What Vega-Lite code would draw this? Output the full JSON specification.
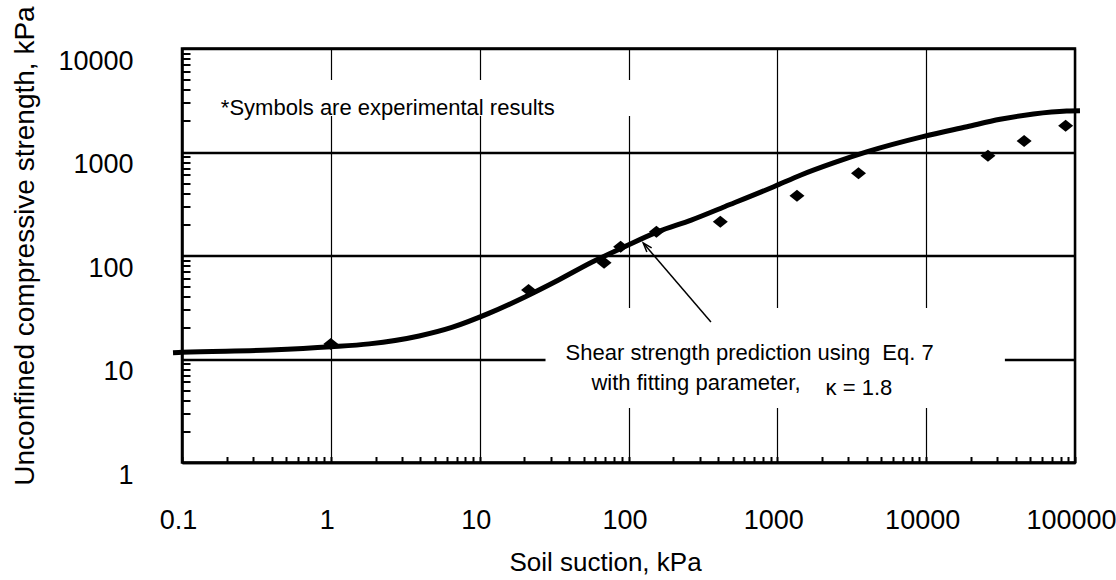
{
  "$schema": "https://vega.github.io/schema/vega-lite/v6.json",
  "width": 893,
  "height": 414,
  "autosize": {"type": "none"},
  "padding": {"left": 182, "top": 48.5, "right": 41, "bottom": 117.5},
  "background": "white",
  "config": {
    "view": {"stroke": "black", "strokeWidth": 2.5},
    "font": "Liberation Sans"
  },
  "datasets": {
    "curve": [
      {"x": 0.087, "y": 11.5}, {"x": 0.1, "y": 11.6}, {"x": 0.39, "y": 12.2}, {"x": 1, "y": 13.1},
      {"x": 1.81, "y": 14.0}, {"x": 3.92, "y": 16.7}, {"x": 6.5, "y": 20.2}, {"x": 11.5, "y": 27.6},
      {"x": 20.3, "y": 40}, {"x": 33.9, "y": 58}, {"x": 56.6, "y": 86}, {"x": 94.6, "y": 122},
      {"x": 158, "y": 170}, {"x": 264, "y": 220}, {"x": 442, "y": 296}, {"x": 946, "y": 462},
      {"x": 1442, "y": 600}, {"x": 2410, "y": 789}, {"x": 4030, "y": 1007}, {"x": 9500, "y": 1406},
      {"x": 18800, "y": 1755}, {"x": 31400, "y": 2070}, {"x": 52600, "y": 2330}, {"x": 87900, "y": 2490},
      {"x": 108000, "y": 2505}
    ],
    "points": [
      {"x": 1, "y": 14}, {"x": 21.3, "y": 46.4}, {"x": 68.5, "y": 85.2}, {"x": 88.5, "y": 121.7},
      {"x": 154, "y": 170}, {"x": 414, "y": 212}, {"x": 1355, "y": 378}, {"x": 3510, "y": 623},
      {"x": 26000, "y": 921}, {"x": 45500, "y": 1277}, {"x": 86500, "y": 1795}
    ],
    "boxes": [
      {"x": 0.13, "x2": 293, "y": 2230, "y2": 4960},
      {"x": 27.7, "x2": 33800, "y": 3.36, "y2": 31.1}
    ],
    "arrow": [
      {"x": 358, "y": 22.8, "x2": 125.6, "y2": 132}
    ],
    "arrowhead": [
      {"x": 125.6, "y": 132}
    ],
    "labels": [
      {"x": 0.1824, "y": 2662, "text": "*Symbols are experimental results"},
      {"x": 37.8, "y": 11.43, "text": "Shear strength prediction using\u00a0 Eq. 7"},
      {"x": 56.4, "y": 5.86, "text": "with fitting parameter,"},
      {"x": 2110, "y": 5.25, "text": "κ = 1.8"}
    ]
  },
  "encoding": {
    "x": {
      "field": "x",
      "type": "quantitative",
      "scale": {"type": "log", "domain": [0.1, 100000], "nice": false},
      "axis": {
        "title": "Soil suction, kPa",
        "values": [0.1, 0.2, 0.3, 0.4, 0.5, 0.6, 0.7, 0.8, 0.9, 1, 2, 3, 4, 5, 6, 7, 8, 9, 10, 20, 30, 40, 50, 60, 70, 80, 90, 100, 200, 300, 400, 500, 600, 700, 800, 900, 1000, 2000, 3000, 4000, 5000, 6000, 7000, 8000, 9000, 10000, 20000, 30000, 40000, 50000, 60000, 70000, 80000, 90000, 100000],
        "format": "~g",
        "labelExpr": "abs(log(datum.value)/LN10 - round(log(datum.value)/LN10)) < 0.001 ? datum.label : ''",
        "grid": true,
        "gridColor": "black",
        "gridWidth": 1.2,
        "gridOpacity": {"condition": {"test": "abs(log(datum.value)/LN10 - round(log(datum.value)/LN10)) < 0.001", "value": 1}, "value": 0},
        "domainColor": "black",
        "domainWidth": 2.5,
        "tickColor": "black",
        "tickWidth": 2,
        "tickSize": -6,
        "labelFont": "Liberation Sans",
        "labelFontSize": 27,
        "labelColor": "black",
        "labelPadding": 51,
        "labelFlush": false,
        "labelOverlap": false,
        "labelOffset": -4,
        "titleFont": "Liberation Sans",
        "titleFontSize": 26,
        "titleFontWeight": "normal",
        "titleColor": "black",
        "titleX": 423,
        "titleY": 108,
        "titleAlign": "center",
        "titleBaseline": "alphabetic"
      }
    },
    "y": {
      "field": "y",
      "type": "quantitative",
      "scale": {"type": "log", "domain": [1, 10000], "nice": false},
      "axis": {
        "title": "Unconfined compressive strength, kPa",
        "values": [1, 2, 3, 4, 5, 6, 7, 8, 9, 10, 20, 30, 40, 50, 60, 70, 80, 90, 100, 200, 300, 400, 500, 600, 700, 800, 900, 1000, 2000, 3000, 4000, 5000, 6000, 7000, 8000, 9000, 10000],
        "format": "~g",
        "labelExpr": "abs(log(datum.value)/LN10 - round(log(datum.value)/LN10)) < 0.001 ? datum.label : ''",
        "grid": true,
        "gridColor": "black",
        "gridWidth": 2.5,
        "gridOpacity": {"condition": {"test": "abs(log(datum.value)/LN10 - round(log(datum.value)/LN10)) < 0.001", "value": 1}, "value": 0},
        "domainColor": "black",
        "domainWidth": 2.5,
        "tickColor": "black",
        "tickWidth": 2,
        "tickSize": -8,
        "labelFont": "Liberation Sans",
        "labelFontSize": 27,
        "labelColor": "black",
        "labelPadding": 57,
        "labelOverlap": false,
        "labelOffset": 12.5,
        "titleFont": "Liberation Sans",
        "titleFontSize": 28,
        "titleFontWeight": "normal",
        "titleColor": "black",
        "titleX": -149,
        "titleY": 197,
        "titleAngle": -90,
        "titleAlign": "center",
        "titleBaseline": "alphabetic"
      }
    }
  },
  "layer": [
    {
      "data": {"name": "boxes"},
      "mark": {"type": "rect", "fill": "white", "stroke": null},
      "encoding": {"x2": {"field": "x2"}, "y2": {"field": "y2"}}
    },
    {
      "data": {"name": "arrow"},
      "mark": {"type": "rule", "color": "black", "strokeWidth": 1.5},
      "encoding": {"x2": {"field": "x2"}, "y2": {"field": "y2"}}
    },
    {
      "data": {"name": "curve"},
      "mark": {"type": "line", "color": "black", "strokeWidth": 5, "interpolate": "monotone", "clip": false}
    },
    {
      "data": {"name": "points"},
      "mark": {"type": "point", "shape": "M-1,0L0,-0.8L1,0L0,0.8Z", "filled": true, "color": "black", "size": 225, "opacity": 1}
    },
    {
      "data": {"name": "arrowhead"},
      "mark": {"type": "point", "shape": "M-0.45,1.3L0,0L0.45,1.3", "filled": false, "stroke": "black", "strokeWidth": 1.5, "size": 200, "angle": 319, "opacity": 1}
    },
    {
      "data": {"name": "labels"},
      "mark": {"type": "text", "align": "left", "baseline": "middle", "font": "Liberation Sans", "fontSize": 22, "color": "black"},
      "encoding": {"text": {"field": "text"}}
    }
  ]
}
